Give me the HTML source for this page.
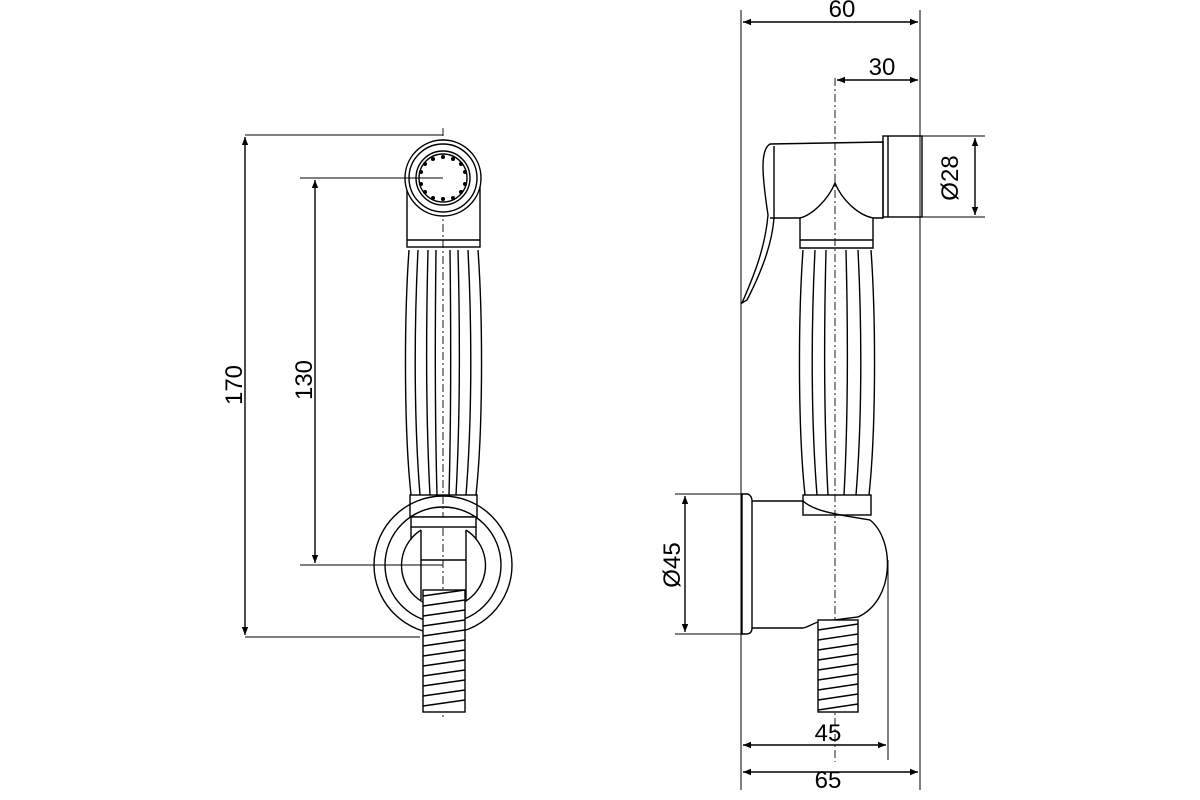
<!DOCTYPE html>
<html><head><style>body{margin:0;background:#fff}svg{display:block}</style></head><body>
<svg width="1200" height="800" viewBox="0 0 1200 800" xmlns="http://www.w3.org/2000/svg" font-family="Liberation Sans, sans-serif">
<defs>
<marker id="a" viewBox="0 0 10 10" refX="10" refY="5" markerWidth="20" markerHeight="8" markerUnits="userSpaceOnUse" orient="auto-start-reverse"><path d="M0,1 L10,5 L0,9z" fill="#000"/></marker>
</defs>
<g stroke="#000" stroke-width="1.4" fill="none">
<!-- LEFT VIEW -->
<line x1="443" y1="128" x2="443" y2="718" stroke-dasharray="8,3,2,3" stroke-width="0.9"/>
<rect x="407" y="185" width="73" height="62"/>
<line x1="407" y1="240" x2="480" y2="240"/>
<circle cx="443" cy="178" r="38" fill="#fff"/>
<circle cx="443" cy="178" r="34"/>
<circle cx="443" cy="178" r="27"/>
<circle cx="443" cy="178" r="24"/>
<g fill="#000" stroke="none">
<circle cx="443" cy="157" r="2"/><circle cx="453" cy="159" r="2"/><circle cx="461" cy="164" r="2"/><circle cx="465" cy="172" r="2"/><circle cx="465" cy="184" r="2"/><circle cx="461" cy="192" r="2"/><circle cx="453" cy="198" r="2"/><circle cx="443" cy="199" r="2"/><circle cx="433" cy="198" r="2"/><circle cx="425" cy="192" r="2"/><circle cx="421" cy="184" r="2"/><circle cx="421" cy="172" r="2"/><circle cx="425" cy="164" r="2"/><circle cx="433" cy="159" r="2"/>
</g>
<path d="M409,250 C404,320 404,430 411,495 M478,250 C483,320 483,430 476,495"/>
<path d="M418,250 C414,330 414,420 420,495 M428,250 C426,330 426,420 430,495 M436,250 C435,330 435,420 437,495 M450,250 C451,330 451,420 449,495 M458,250 C460,330 460,420 456,495 M468,250 C472,330 472,420 466,495"/>
<rect x="410" y="495" width="67" height="22"/>
<circle cx="443" cy="565" r="69"/>
<circle cx="443" cy="565" r="58"/>
<rect x="411" y="517" width="65" height="10" fill="#fff"/>
<path d="M421,530 L421,600 M466,530 L466,600 M411,527 L411,540 M476,527 L476,540"/>
<path d="M421,530 A42,42 0 1,0 466,530" />
<line x1="421" y1="560" x2="466" y2="560"/>
<rect x="423" y="590" width="42" height="122" fill="#fff"/>
<path d="M423,596 L465,590 M423,606 L465,600 M423,616 L465,610 M423,626 L465,620 M423,636 L465,630 M423,646 L465,640 M423,656 L465,650 M423,666 L465,660 M423,676 L465,670 M423,686 L465,680 M423,696 L465,690 M423,706 L465,700"/>
<!-- dims left -->
<line x1="245" y1="135" x2="443" y2="135" stroke-width="1"/>
<line x1="245" y1="637" x2="420" y2="637" stroke-width="1"/>
<line x1="245" y1="137" x2="245" y2="635" marker-start="url(#a)" marker-end="url(#a)"/>
<line x1="300" y1="178" x2="443" y2="178" stroke-width="1"/>
<line x1="300" y1="565" x2="443" y2="565" stroke-width="1"/>
<line x1="315" y1="180" x2="315" y2="563" marker-start="url(#a)" marker-end="url(#a)"/>
<!-- RIGHT VIEW -->
<line x1="835" y1="78" x2="835" y2="762" stroke-dasharray="8,3,2,3" stroke-width="0.9"/>
<path d="M770,144 L883,142 L883,218 L873,218 L873,248 L800,248 L800,218 L770,218"/>
<path d="M800,218 C812,215 828,200 835,183 C842,200 858,215 873,218"/>
<line x1="800" y1="240" x2="873" y2="240"/>
<rect x="883" y="136" width="39" height="81"/>
<line x1="888" y1="136" x2="888" y2="217"/>
<path d="M770,144 C760,150 762,175 768,215 C765,250 752,280 742,303 L747,300 C760,275 772,245 774,218 L774,146"/>
<path d="M803,250 C798,320 798,430 805,495 M871,250 C876,320 876,430 869,495 M815,250 C811,330 811,420 817,495 M826,250 C824,330 824,420 828,495 M846,250 C848,330 848,420 844,495 M858,250 C862,330 862,420 856,495"/>
<rect x="803" y="495" width="68" height="20"/>
<path d="M742,494 L748,494 Q752,496 752,501 L752,628 Q752,634 746,634 L742,634 Z"/>
<path d="M752,501 L803,501 C815,512 840,515 870,520 C895,540 895,600 858,617 L818,622 C812,624 808,627 803,628 L752,628"/>
<rect x="818" y="620" width="40" height="92" fill="#fff"/>
<path d="M818,630 L858,624 M818,640 L858,634 M818,650 L858,644 M818,660 L858,654 M818,670 L858,664 M818,680 L858,674 M818,690 L858,684 M818,700 L858,694 M818,710 L858,704"/>
<!-- dims right -->
<line x1="741" y1="10" x2="741" y2="790" stroke-width="1"/>
<line x1="920" y1="10" x2="920" y2="790" stroke-width="1"/>
<line x1="888" y1="560" x2="888" y2="760" stroke-width="1"/>
<line x1="743" y1="22" x2="918" y2="22" marker-start="url(#a)" marker-end="url(#a)"/>
<line x1="837" y1="80" x2="918" y2="80" marker-start="url(#a)" marker-end="url(#a)"/>
<line x1="920" y1="136" x2="985" y2="136" stroke-width="1"/>
<line x1="920" y1="217" x2="985" y2="217" stroke-width="1"/>
<line x1="975" y1="138" x2="975" y2="215" marker-start="url(#a)" marker-end="url(#a)"/>
<line x1="675" y1="494" x2="742" y2="494" stroke-width="1"/>
<line x1="675" y1="634" x2="742" y2="634" stroke-width="1"/>
<line x1="685" y1="496" x2="685" y2="632" marker-start="url(#a)" marker-end="url(#a)"/>
<line x1="743" y1="745" x2="886" y2="745" marker-start="url(#a)" marker-end="url(#a)"/>
<line x1="743" y1="772" x2="918" y2="772" marker-start="url(#a)" marker-end="url(#a)"/>
</g>
<g font-size="24" fill="#000" text-anchor="middle">
<text transform="translate(242,385) rotate(-90)">170</text>
<text transform="translate(312,380) rotate(-90)">130</text>
<text x="842" y="17">60</text>
<text x="882" y="75">30</text>
<text transform="translate(958,178) rotate(-90)">Ø28</text>
<text transform="translate(680,565) rotate(-90)">Ø45</text>
<text x="828" y="741">45</text>
<text x="828" y="788">65</text>
</g>
</svg>
</body></html>
